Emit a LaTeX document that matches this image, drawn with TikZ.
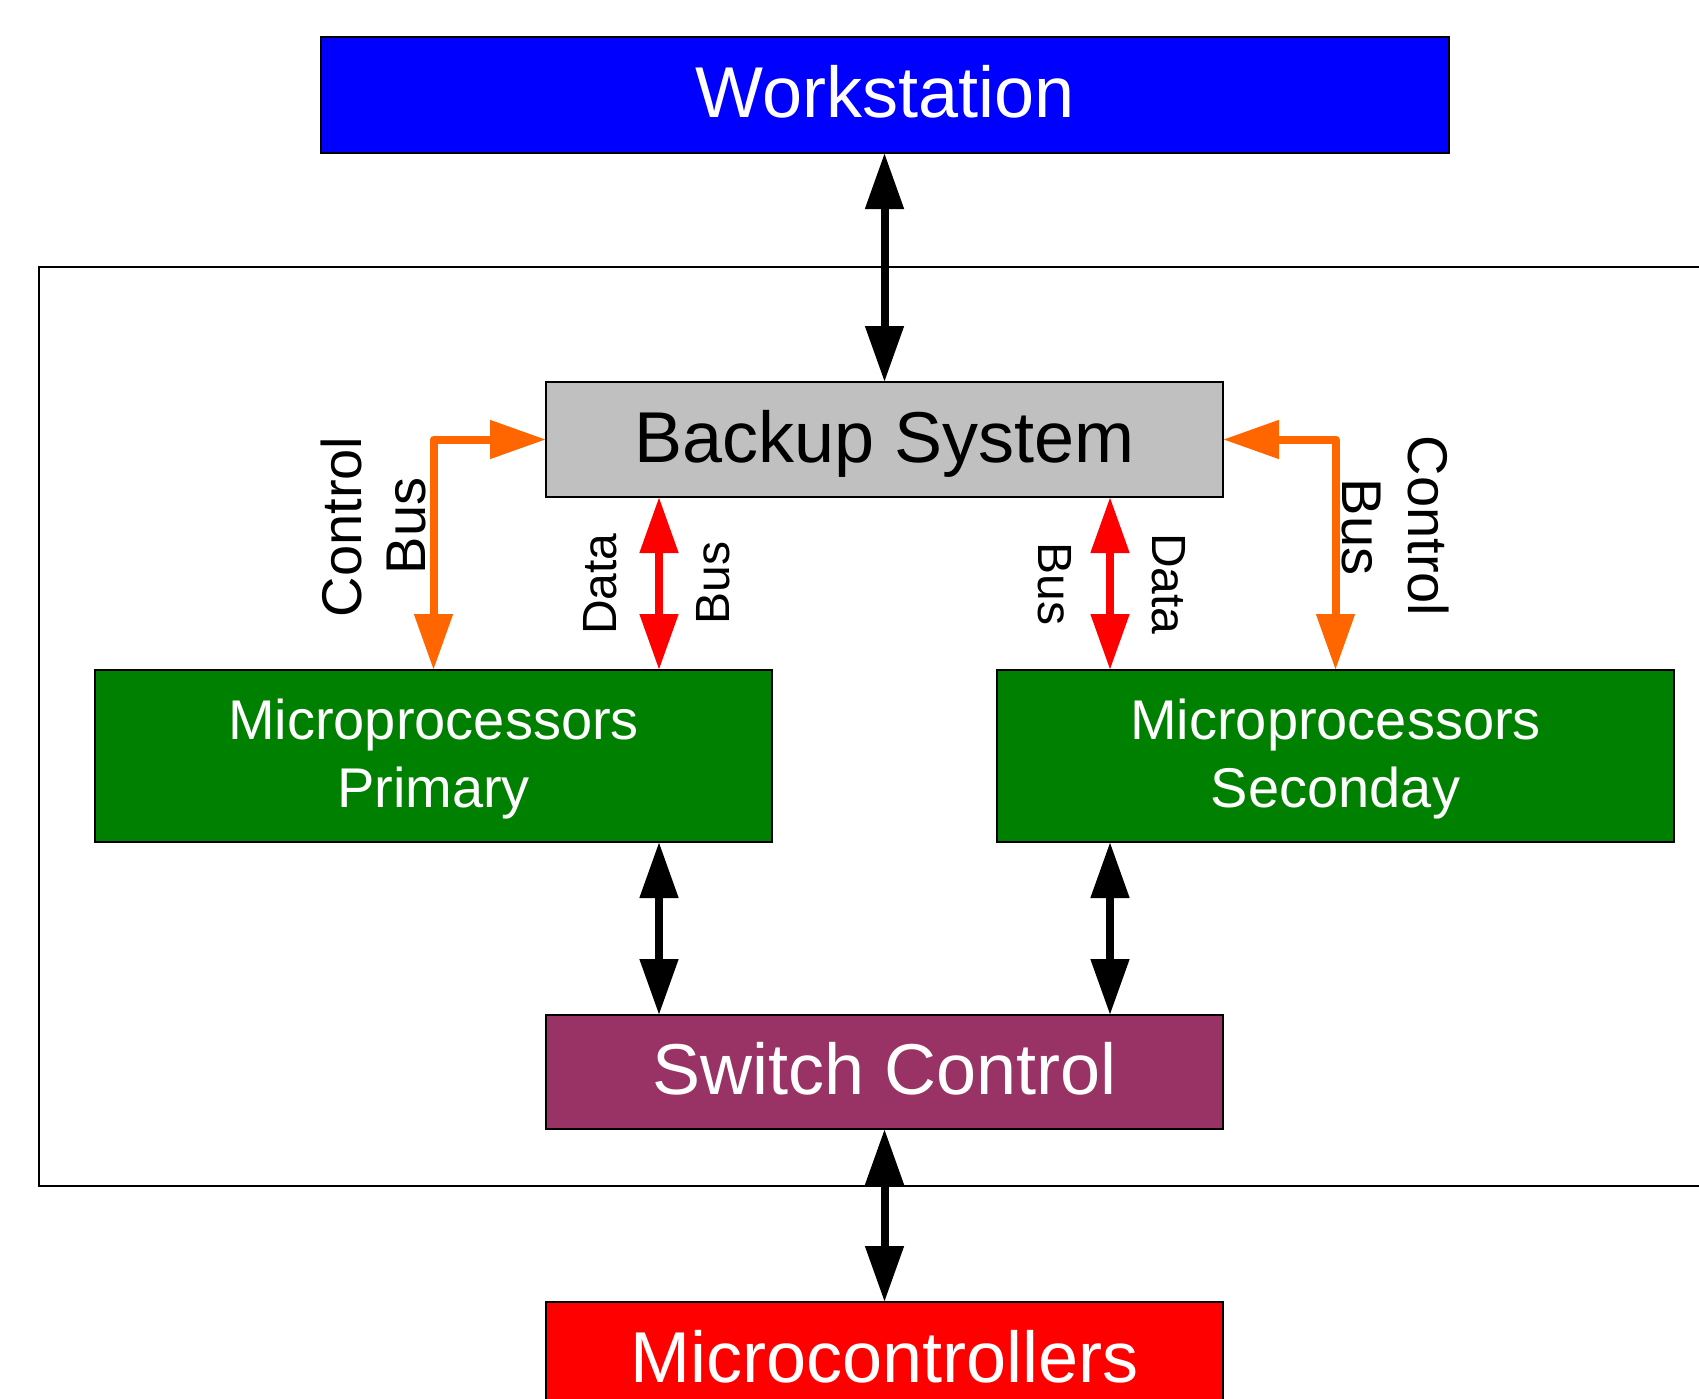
\documentclass[tikz,border=0pt]{standalone}
\usepackage{fontspec}
\setmainfont{Liberation Sans}
\usetikzlibrary{arrows.meta}
\definecolor{wsblue}{RGB}{0,0,255}
\definecolor{bsgray}{RGB}{192,192,192}
\definecolor{mpgreen}{RGB}{0,128,0}
\definecolor{scpurple}{RGB}{153,51,102}
\definecolor{mcred}{RGB}{255,0,0}
\definecolor{busorange}{RGB}{255,102,0}
\definecolor{busred}{RGB}{255,0,0}
\begin{document}
\begin{tikzpicture}[x=1pt,y=-1pt,
  box/.style={draw=black, line width=2.5pt, rectangle, outer sep=0pt, inner sep=0pt,
    minimum width=677pt, text height=45pt, text depth=0pt,
    font=\fontsize{72}{86}\selectfont},
  mpbox/.style={draw=black, line width=2.5pt, rectangle, outer sep=0pt, inner sep=0pt,
    minimum width=677pt, minimum height=172pt, fill=mpgreen, text=white, align=center,
    text height=102pt, text depth=0pt,
    font=\fontsize{56}{68}\selectfont},
  tipk/.tip={Triangle[length=56pt,width=37pt]},
  biarrow/.style={line width=8pt, line join=round, {tipk}-{tipk}},
  ctrllabel/.style={inner sep=0pt, font=\fontsize{56}{67}\selectfont},
  datalabel/.style={inner sep=0pt, font=\fontsize{48}{58}\selectfont},
  frame/.style={draw=black, line width=2pt}
]
\useasboundingbox (0,0) rectangle (1699,1399);
\clip (0,0) rectangle (1699,1399);

% outer frame
\draw[frame] (39,267) rectangle (1740,1186);

% boxes
\node[box, minimum width=1128pt, minimum height=116pt, fill=wsblue, text=white] (ws) at (885,95) {Workstation};
\node[box, minimum height=115pt, fill=bsgray, text=black] (bs) at (884.5,439.5) {Backup System};
\node[mpbox] (mp) at (433.5,756) {Microprocessors\\Primary};
\node[mpbox] (ms) at (1335.5,756) {Microprocessors\\Seconday};
\node[box, minimum height=114pt, fill=scpurple, text=white] (sc) at (884.5,1072) {Switch Control};
\node[box, minimum height=115pt, fill=mcred, text=white] (mc) at (884.5,1359.5) {Microcontrollers};

% x positions of the vertical buses
\coordinate (xl) at (659,0);
\coordinate (xr) at (1110,0);

% black links
\draw[biarrow, black] (ws.south -| bs.north) -- (bs.north);
\draw[biarrow, black] (mp.south -| xl) -- (sc.north -| xl);
\draw[biarrow, black] (ms.south -| xr) -- (sc.north -| xr);
\draw[biarrow, black] (sc.south) -- (mc.north);

% data buses
\draw[biarrow, busred] (bs.south -| xl) -- (mp.north -| xl);
\draw[biarrow, busred] (bs.south -| xr) -- (ms.north -| xr);

% control buses
\draw[biarrow, busorange] (bs.west) -| (mp.north);
\draw[biarrow, busorange] (bs.east) -| (ms.north);

% labels
\node[ctrllabel, rotate=90] (lc1) at (341,527) {Control};
\node[ctrllabel, rotate=90] (lc2) at (407,526) {Bus};
\node[datalabel, rotate=90] (ld1) at (600,584) {Data};
\node[datalabel, rotate=90] (ld2) at (713,583) {Bus};
\node[datalabel, rotate=-90] (rd2) at (1055,584) {Bus};
\node[datalabel, rotate=-90] (rd1) at (1169,584) {Data};
\node[ctrllabel, rotate=-90] (rc2) at (1361,527) {Bus};
\node[ctrllabel, rotate=-90] (rc1) at (1428,526) {Control};
\end{tikzpicture}
\end{document}
